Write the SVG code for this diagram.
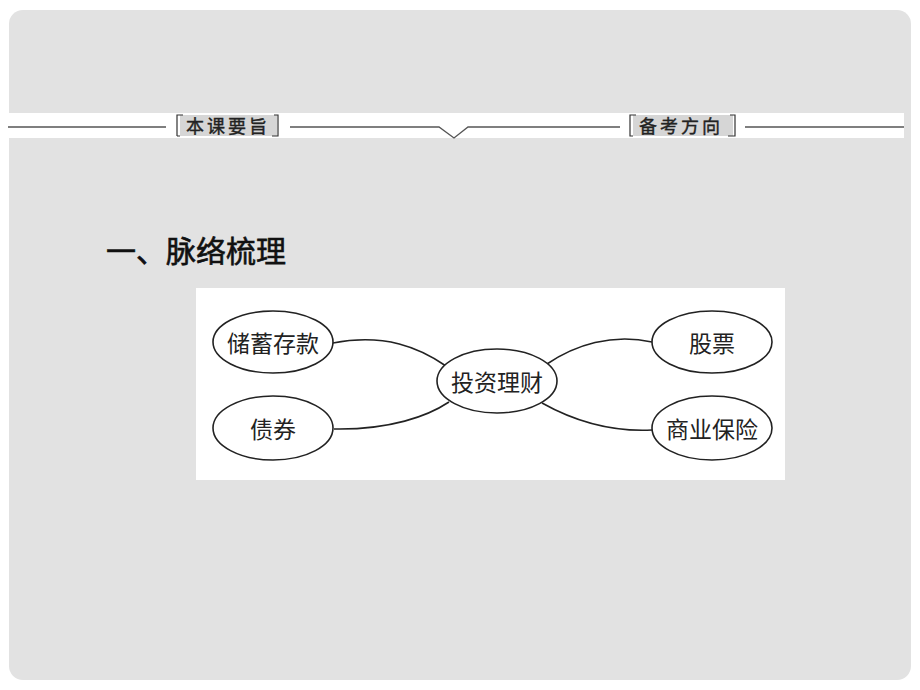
<svg xmlns="http://www.w3.org/2000/svg" width="920" height="690" viewBox="0 0 920 690">
<defs>
<style>
.bg{fill:#e2e2e2}
.band{fill:#ffffff}
.rule{stroke:#555;stroke-width:1.3;fill:none}
.tagbox{fill:#d6d6d6}
.brk{stroke:#333;stroke-width:1.2;fill:none}
.tag{font-family:"Noto Sans CJK SC","Liberation Sans",sans-serif;font-size:18px;font-weight:normal;fill:#222;stroke:#222;stroke-width:0.4;letter-spacing:3px}
.title{font-family:"Noto Sans CJK SC","Liberation Sans",sans-serif;font-size:30px;font-weight:normal;fill:#111;stroke:#111;stroke-width:0.6}
.node ellipse{fill:#fff;stroke:#222;stroke-width:1.6}
.node text{font-family:"Noto Sans CJK SC","Liberation Sans",sans-serif;font-size:23px;fill:#222;text-anchor:middle;dominant-baseline:central}
.conn path{fill:none;stroke:#222;stroke-width:1.6}
</style>
</defs>
<rect x="0" y="0" width="920" height="690" fill="#ffffff"/>
<rect class="bg" x="9" y="10" width="902" height="670" rx="14"/>
<rect class="band" x="8" y="113" width="896" height="25"/>
<g id="header">
<path class="rule" d="M8,127 H166 M290,127 H439 L454,138 L468,127 H620 M745,127 H904"/>
<rect class="tagbox" x="180" y="115" width="97" height="21"/>
<path class="brk" d="M183,115 H177 V136 M177,136 H180 M274,115 H278 V136 H272"/>
<text class="tag" x="186" y="133">本课要旨</text>
<rect class="tagbox" x="633" y="115" width="100" height="21"/>
<path class="brk" d="M636,115 H630 V136 H633 M730,115 H735 V136 H728"/>
<text class="tag" x="639" y="133">备考方向</text>
</g>
<text class="title" x="106" y="262">一、脉络梳理</text>
<rect x="196" y="288" width="589" height="192" fill="#ffffff"/>
<g class="conn" id="connectors">
<path d="M333,343 C385,333 420,348 446,366"/>
<path d="M334,429 C390,430 428,416 449,402"/>
<path d="M547,364 C575,345 612,333 652,342"/>
<path d="M542,403 C576,422 612,432 652,430"/>
</g>
<g class="node" id="n-chuxu"><ellipse cx="273" cy="342" rx="60" ry="31"/><text x="273" y="342">储蓄存款</text></g>
<g class="node" id="n-zhaiquan"><ellipse cx="273" cy="428" rx="60" ry="32"/><text x="273" y="428">债券</text></g>
<g class="node" id="n-touzi"><ellipse cx="497" cy="381" rx="60" ry="32"/><text x="497" y="381">投资理财</text></g>
<g class="node" id="n-gupiao"><ellipse cx="712" cy="342" rx="60" ry="31"/><text x="712" y="342">股票</text></g>
<g class="node" id="n-baoxian"><ellipse cx="712" cy="428" rx="60" ry="32"/><text x="712" y="428">商业保险</text></g>
</svg>
